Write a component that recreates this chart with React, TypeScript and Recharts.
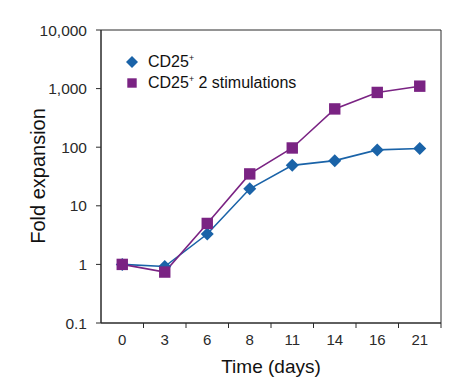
import { Label, Legend, Line, LineChart, ReferenceArea, XAxis, YAxis } from 'recharts';

const days = ['0', '3', '6', '8', '11', '14', '16', '21'];
const cd25 = [1, 0.92, 3.3, 19.5, 49, 59, 90, 95];
const cd25Stim = [1, 0.74, 5, 35, 97, 450, 860, 1100];
const yTicks = [0.1, 1, 10, 100, 1000, 10000];

const BLUE = '#1a63a8';
const PURPLE = '#7a2383';
const AXIS = '#2a2a2a';
const FONT = '"Liberation Sans", Arial, Helvetica, sans-serif';

// plot area is 340px wide, 8 equal bands
const BAND = 340 / days.length;

const data = days.map((d, i) => ({
    pos: i + 0.5,
    day: d,
    cd25: cd25[i],
    cd25Stim: cd25Stim[i]
}));

const Diamond = (props: any) => {
    const { cx, cy, fill, size = 6.5 } = props;
    if (cx == null || cy == null) return null;
    return (
        <polygon
            key={`d-${cx}-${cy}`}
            points={`${cx},${cy - size} ${cx + size},${cy} ${cx},${cy + size} ${cx - size},${cy}`}
            fill={fill}
        />
    );
};

const Square = (props: any) => {
    const { cx, cy, fill, size = 5.7 } = props;
    if (cx == null || cy == null) return null;
    return <rect key={`s-${cx}-${cy}`} x={cx - size} y={cy - size} width={size * 2} height={size * 2} fill={fill} />;
};

const DayTick = ({ x, y, payload }: any) => {
    const label = days[payload.value - 1];
    return (
        <text x={x - BAND / 2} y={y} dy="0.71em" textAnchor="middle" fill={AXIS} fontSize={15} fontFamily={FONT}>
            {label}
        </text>
    );
};

const withPlus = (name: string) => {
    const [head, ...rest] = name.split('+');
    return (
        <>
            {head}
            <sup style={{ fontSize: '0.55em', verticalAlign: '0.7em' }}>+</sup>
            {rest.join('+')}
        </>
    );
};

const LegendBox = ({ payload }: any) => (
    <div style={{ fontFamily: FONT, fontSize: 16, color: '#111' }}>
        {(payload || []).map((p: any, i: number) => (
            <div key={i} style={{ display: 'flex', alignItems: 'center', height: 20.5 }}>
                <svg width={20} height={16} style={{ marginRight: 6 }}>
                    {i === 0 ? <Diamond cx={10} cy={8} fill={p.color} size={6} /> : <Square cx={10} cy={8} fill={p.color} size={4.7} />}
                </svg>
                <span>{withPlus(p.value)}</span>
            </div>
        ))}
    </div>
);

export default function App() {
    return (
        <div style={{ position: 'absolute', left: 0, top: 0, background: '#fff' }}>
            <LineChart width={468} height={392} data={data} margin={{ top: 30, right: 27, bottom: 29, left: 41 }}>
                <XAxis
                    dataKey="pos"
                    type="number"
                    domain={[0, days.length]}
                    ticks={days.map((_, i) => i + 1)}
                    allowDataOverflow
                    height={40}
                    tickSize={5}
                    tickMargin={6}
                    stroke={AXIS}
                    tick={<DayTick />}
                >
                    <Label
                        content={() => (
                            <text x={271} y={366} textAnchor="middle" dominantBaseline="central" fontSize={19} fontFamily={FONT} fill="#111">
                                Time (days)
                            </text>
                        )}
                    />
                </XAxis>
                <YAxis
                    type="number"
                    scale="log"
                    domain={[0.1, 10000]}
                    ticks={yTicks}
                    allowDataOverflow
                    width={60}
                    tickSize={5}
                    tickMargin={9}
                    stroke={AXIS}
                    tick={{ fill: AXIS, fontSize: 15.5, fontFamily: FONT }}
                    tickFormatter={(v: number) => v.toLocaleString('en-US')}
                >
                    <Label
                        content={() => (
                            <text
                                x={38}
                                y={176}
                                transform="rotate(-90 38 176)"
                                textAnchor="middle"
                                dominantBaseline="central"
                                fontSize={20}
                                fontFamily={FONT}
                                fill="#111"
                            >
                                Fold expansion
                            </text>
                        )}
                    />
                </YAxis>
                <ReferenceArea x1={0} x2={days.length} y1={0.1} y2={10000} fill="none" stroke={AXIS} strokeWidth={1} ifOverflow="visible" />
                <Legend
                    layout="vertical"
                    align="center"
                    verticalAlign="middle"
                    content={<LegendBox />}
                    wrapperStyle={{ left: 122, top: 52, width: 'auto', height: 'auto' }}
                />
                <Line
                    dataKey="cd25"
                    name="CD25+"
                    stroke={BLUE}
                    fill={BLUE}
                    strokeWidth={1.6}
                    dot={<Diamond fill={BLUE} />}
                    activeDot={false}
                    isAnimationActive={false}
                />
                <Line
                    dataKey="cd25Stim"
                    name="CD25+ 2 stimulations"
                    stroke={PURPLE}
                    fill={PURPLE}
                    strokeWidth={1.6}
                    dot={<Square fill={PURPLE} />}
                    activeDot={false}
                    isAnimationActive={false}
                />
            </LineChart>
        </div>
    );
}
